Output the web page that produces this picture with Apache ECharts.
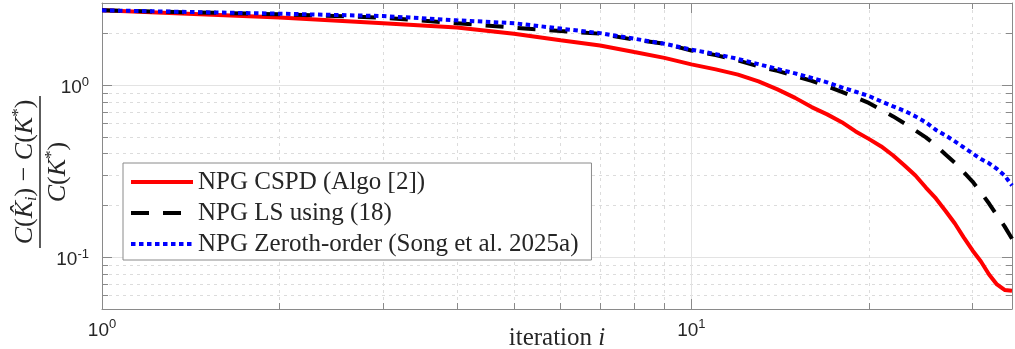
<!DOCTYPE html>
<html>
<head>
<meta charset="utf-8">
<script src="https://cdn.jsdelivr.net/npm/echarts@6/dist/echarts.min.js"></script>
<style>
  html, body { margin: 0; padding: 0; background: #fff; }
  #chart { width: 1015px; height: 349px; }
</style>
</head>
<body>
<div id="chart"></div>
<script>
// iteration index i
const iterations = [1, 2, 3, 4, 5, 6, 7, 8, 9, 10, 11, 12, 13, 14, 15, 16, 17, 18,
  19, 20, 21, 22, 23, 24, 25, 26, 27, 28, 29, 30, 31, 32, 33, 34, 35];

// (C(K_i) - C(K*)) / C(K*)
const cspd = [2.72, 2.47, 2.29, 2.16, 1.99, 1.82, 1.70, 1.556, 1.44, 1.32, 1.234, 1.15,
  1.05, 0.944, 0.843, 0.745, 0.676, 0.609, 0.538, 0.487, 0.440, 0.390, 0.341, 0.2985,
  0.254, 0.2195, 0.1856, 0.157, 0.130, 0.1094, 0.0944, 0.0793, 0.0694, 0.0645, 0.0638];
const lsUsing18 = [2.72, 2.58, 2.466, 2.29, 2.157, 2.06, 1.99, 1.836, 1.741, 1.59, 1.494,
  1.392, 1.285, 1.209, 1.131, 1.058, 0.983, 0.913, 0.848, 0.788, 0.718, 0.658, 0.599,
  0.545, 0.497, 0.446, 0.395, 0.353, 0.311, 0.275, 0.238, 0.205, 0.175, 0.151, 0.128];
const zerothOrder = [2.72, 2.60, 2.52, 2.38, 2.29, 2.13, 2.005, 1.86, 1.74, 1.607, 1.514,
  1.42, 1.323, 1.24, 1.17, 1.101, 1.037, 0.97, 0.915, 0.865, 0.804, 0.752, 0.708, 0.658,
  0.607, 0.549, 0.510, 0.471, 0.434, 0.401, 0.372, 0.351, 0.326, 0.2985, 0.261];

const seriesNames = ['NPG CSPD (Algo [2])', 'NPG LS using (18)', 'NPG Zeroth-order (Song et al. 2025a)'];

const xRange = [1, 35];
const yRange = [0.05, 3];
const xMajorTicks = [1, 10];
const xMinorTicks = [2, 3, 4, 5, 6, 7, 8, 9, 20, 30];
const yMajorTicks = [0.1, 1];
const yMinorTicks = [0.06, 0.07, 0.08, 0.09, 0.2, 0.3, 0.4, 0.5, 0.6, 0.7, 0.8, 0.9, 2];

const boxColor = '#8a8a8a';
const labelColor = '#262626';

function powLabel(v) {
  const e = Math.round(Math.log10(v));
  return `{b|10}{s|${e}}`;
}

const tickRich = {
  b: { fontFamily: 'Liberation Sans', fontSize: 19, lineHeight: 25, color: labelColor },
  s: { fontFamily: 'Liberation Sans', fontSize: 13, lineHeight: 13, verticalAlign: 'top', color: labelColor },
};

function logAxis(range, position, ticks, major, withLabels, grid) {
  return {
    type: 'log',
    logBase: 10,
    min: range[0],
    max: range[1],
    position,
    axisLine: { show: major, onZero: false, lineStyle: { color: boxColor, width: 1 } },
    axisTick: {
      show: true,
      inside: true,
      customValues: ticks,
      length: major ? 10 : 6,
      lineStyle: { color: boxColor, width: 1 },
    },
    minorTick: { show: false },
    axisLabel: withLabels ? {
      show: true,
      customValues: ticks,
      formatter: powLabel,
      margin: position === 'left' ? 13 : 9,
      padding: position === 'left' ? [6, 0, 0, 0] : 0,
      rich: tickRich,
    } : { show: false },
    splitLine: grid === 'major'
      ? { show: true, lineStyle: { color: '#e3e3e3', width: 1, type: 'solid' } }
      : grid === 'minor'
        ? { show: true, lineStyle: { color: '#dcdcdc', width: 1, type: [3, 4] } }
        : { show: false },
  };
}

const toPoints = (vals) => iterations.map((it, k) => [it, vals[k]]);

const chart = echarts.init(document.getElementById('chart'), null, { renderer: 'canvas' });

const serifRich = (size) => ({
  i: { fontFamily: 'Liberation Serif', fontStyle: 'italic', fontSize: size, lineHeight: size + 4, fill: labelColor },
  n: { fontFamily: 'Liberation Serif', fontSize: size, lineHeight: size + 4, fill: labelColor },
  sub: { fontFamily: 'Liberation Serif', fontStyle: 'italic', fontSize: 16, lineHeight: 16, verticalAlign: 'bottom', fill: labelColor },
  sup: { fontFamily: 'Liberation Serif', fontSize: 17, lineHeight: 17, verticalAlign: 'top', fill: labelColor },
});

chart.setOption({
  animation: false,
  backgroundColor: '#fff',
  grid: { left: 102, right: 3, top: 3, bottom: 40, containLabel: false, outerBoundsMode: 'none' },
  xAxis: [
    Object.assign(logAxis(xRange, 'bottom', xMajorTicks, true, true, 'major'), {
      name: '{n|iteration }{i|i}',
      nameLocation: 'middle',
      nameGap: 17,
      nameMoveOverlap: false,
      nameTextStyle: {
        rich: {
          n: { fontFamily: 'Liberation Serif', fontSize: 25, color: labelColor },
          i: { fontFamily: 'Liberation Serif', fontStyle: 'italic', fontSize: 25, color: labelColor },
        },
      },
    }),
    logAxis(xRange, 'bottom', xMinorTicks, false, false, 'minor'),
    logAxis(xRange, 'top', xMajorTicks, true, false, null),
    logAxis(xRange, 'top', xMinorTicks, false, false, null),
  ],
  yAxis: [
    logAxis(yRange, 'left', yMajorTicks, true, true, 'major'),
    logAxis(yRange, 'left', yMinorTicks, false, false, 'minor'),
    logAxis(yRange, 'right', yMajorTicks, true, false, null),
    logAxis(yRange, 'right', yMinorTicks, false, false, null),
  ],
  legend: {
    orient: 'vertical',
    left: 123,
    top: 163,
    padding: [6, 13, 3, 6],
    itemGap: 5,
    itemWidth: 62,
    itemHeight: 14,
    backgroundColor: '#fff',
    borderColor: boxColor,
    borderWidth: 1,
    borderRadius: 0,
    itemStyle: { opacity: 0 },
    lineStyle: { width: 4 },
    textStyle: { fontFamily: 'Liberation Serif', fontSize: 25, lineHeight: 26, color: labelColor },
    data: seriesNames,
  },
  series: [
    {
      name: seriesNames[0],
      type: 'line',
      data: toPoints(cspd),
      showSymbol: false,
      symbol: 'none',
      lineStyle: { color: '#ff0000', width: 4, type: 'solid' },
      itemStyle: { color: '#ff0000' },
      z: 3,
    },
    {
      name: seriesNames[1],
      type: 'line',
      data: toPoints(lsUsing18),
      showSymbol: false,
      symbol: 'none',
      lineStyle: { color: '#000000', width: 4, type: [18, 14] },
      itemStyle: { color: '#000000' },
      z: 4,
    },
    {
      name: seriesNames[2],
      type: 'line',
      data: toPoints(zerothOrder),
      showSymbol: false,
      symbol: 'none',
      lineStyle: { color: '#0000ff', width: 4, type: [4.5, 3.5] },
      itemStyle: { color: '#0000ff' },
      z: 5,
    },
  ],
  graphic: [
    {
      type: 'group',
      x: 40,
      y: 172,
      rotation: Math.PI / 2,
      children: [
        {
          type: 'text',
          x: 0,
          y: -15,
          style: {
            text: '{i|C}{n|(}{i|K\u0302}{sub|i}{n|) \u2212 }{i|C}{n|(}{i|K}{sup|*}{n|)}',
            align: 'center',
            verticalAlign: 'middle',
            rich: serifRich(26),
          },
        },
        {
          type: 'rect',
          shape: { x: -76, y: -0.75, width: 152, height: 1.5 },
          style: { fill: labelColor },
        },
        {
          type: 'text',
          x: 0,
          y: 18,
          style: {
            text: '{i|C}{n|(}{i|K}{sup|*}{n|)}',
            align: 'center',
            verticalAlign: 'middle',
            rich: serifRich(26),
          },
        },
      ],
    },
  ],
});
</script>
</body>
</html>
